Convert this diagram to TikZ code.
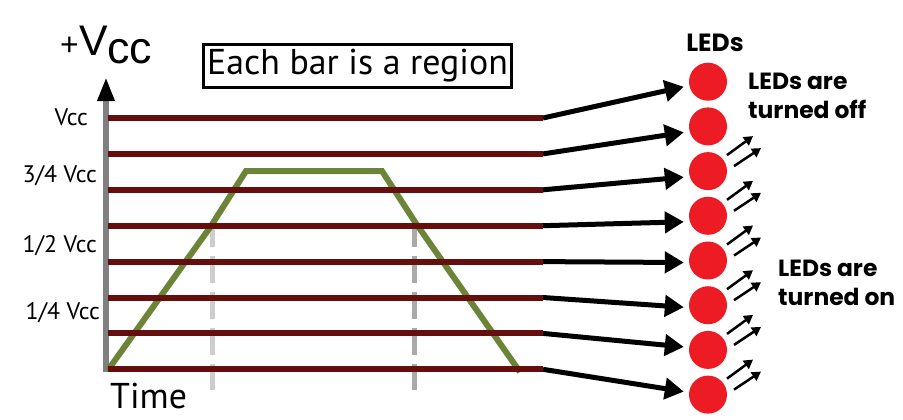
\documentclass[tikz,border=0pt]{standalone}
\usepackage{fontspec}
\setmainfont{PT Sans}
\newfontfamily\ledfont{Poppins}
\newfontfamily\vccfont{Liberation Sans}
\usetikzlibrary{arrows.meta,calc}
\definecolor{barred}{RGB}{102,13,13}
\definecolor{rampgreen}{RGB}{107,132,56}
\definecolor{ledred}{RGB}{237,28,36}
\definecolor{axisgray}{RGB}{128,128,128}
\definecolor{guideA}{RGB}{205,205,205}
\definecolor{guideB}{RGB}{170,170,170}
\begin{document}
\begin{tikzpicture}[x=1bp,y=-1bp,
  bar/.style={barred,line width=6bp},
  ramp/.style={rampgreen,line width=6bp},
  axisline/.style={axisgray,line width=6bp,-{Triangle[length=24bp,width=16bp,color=black]}},
  guide/.style={line width=5bp,dash pattern=on 27bp off 9bp,dash phase=8bp},
  feed/.style={line width=5bp,-{Triangle[length=19bp,width=21bp]}},
  emit/.style={line width=2.5bp,-{Triangle[length=9bp,width=10bp]}},
  led/.style={circle,fill=ledred,minimum size=38bp,inner sep=0},
  lvl/.style={font=\fontsize{24}{24}\selectfont,anchor=base east,inner sep=0},
  ledtxt/.style={font=\ledfont\bfseries\fontsize{23.5}{29}\selectfont,align=left,inner sep=0}
]
\useasboundingbox (0,0) rectangle (903,419);

% axis
\coordinate (axbot) at (106,372);
\coordinate (axtop) at (106,77);
\draw[axisline] (axbot) -- (axtop);

% dashed guides
\coordinate (g1t) at (212,228); \coordinate (g1b) at (212,390);
\coordinate (g2t) at (414,228); \coordinate (g2b) at (414,390);
\draw[guide,guideA] (g1t) -- (g1b);
\draw[guide,guideB] (g2t) -- (g2b);

% ramp
\coordinate (r0) at (108,370);
\coordinate (r1) at (211,226);
\coordinate (r2) at (246,171);
\coordinate (r3) at (382,171);
\coordinate (r4) at (415,222);
\coordinate (r5) at (520,372);
\draw[ramp] (r0) -- (r1) -- (r2) -- (r3) -- (r4) -- (r5);

% bars
\foreach \i/\y in {1/118,2/153.9,3/189.8,4/225.7,5/261.6,6/297.5,7/333.4,8/369.3}{
  \coordinate (bs\i) at (108,\y);
  \coordinate (be\i) at (543,\y);
  \draw[bar] (bs\i) -- (be\i);
}

% LEDs
\foreach \i in {1,...,8}
  \node[led] (led\i) at (708,{81.7+44.7*(\i-1)}) {};

% feed arrows
\foreach \i/\dy in {1/5,2/6,3/6,4/6,5/2,6/2,7/-3,8/-3}
  \draw[feed] (be\i) -- ($(led\i.west)+(-5,\dy)$);

% emission arrows
\foreach \i in {3,...,8}{
  \draw[emit] ($(led\i)+(19,-16)$) -- ++(26,-19);
  \draw[emit] ($(led\i)+(26,-5)$) -- ++(27,-18);
}

% labels
\node[lvl] (lvcc) at (88,125) {Vcc};
\node[lvl] (l34) at (97,182) {3/4 Vcc};
\node[lvl] (l12) at (97,252) {1/2 Vcc};
\node[lvl] (l14) at (100,319) {1/4 Vcc};
\node[anchor=base west,inner sep=0,font=\fontsize{36}{36}\selectfont] (time) at (110,408) {Time};
\node[draw,line width=2.7bp,minimum width=308.5bp,minimum height=43.5bp,inner sep=0,font=\fontsize{36}{36}\selectfont] (note) at (357.5,66) {Each bar is a region};
\node[anchor=base west,inner sep=0,font=\vccfont] (vcc) at (60,55)
  {{\fontsize{32}{32}\selectfont +}\kern1bp{\fontsize{43}{43}\selectfont V}\kern-1bp\raisebox{-8bp}{\fontsize{45}{45}\selectfont cc}};

\node[ledtxt,anchor=base,font=\ledfont\bfseries\fontsize{25}{29}\selectfont] (ledhead) at (715,51) {LEDs};
\node[ledtxt,anchor=north west] (offtxt) at (748,73) {LEDs are\\turned off};
\node[ledtxt,anchor=north west] (ontxt) at (778,260) {LEDs are\\turned on};
\end{tikzpicture}
\end{document}
